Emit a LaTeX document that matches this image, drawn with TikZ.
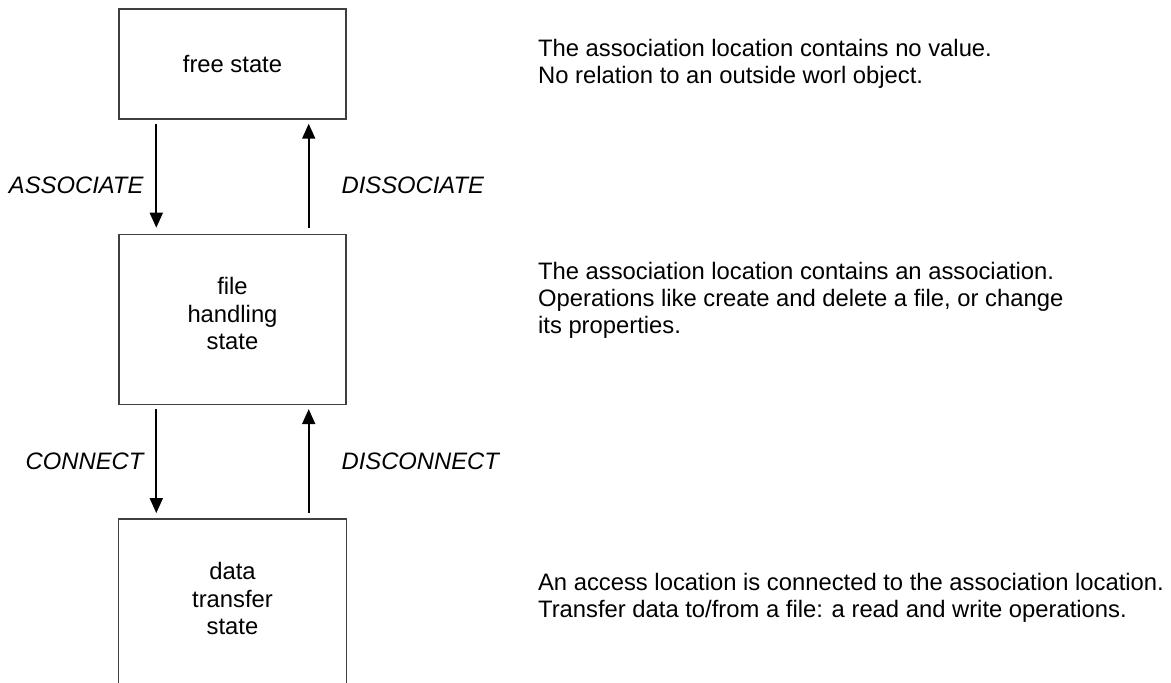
\documentclass[tikz,border=0pt]{standalone}
\usepackage{fontspec}
\setmainfont{Liberation Sans}
\usetikzlibrary{positioning,arrows.meta}

\begin{document}
\begin{tikzpicture}[x=0.5pt,y=-0.5pt]
\tikzstyle{st}=[draw=black!75, line width=0.7pt, minimum width=113.5pt, align=center, inner sep=0pt, font=\fontsize{11.9pt}{13.75pt}\selectfont]
\tikzstyle{arr}=[-{Triangle[length=7.5pt,width=6.5pt]}, line width=0.9pt]
\tikzstyle{lbl}=[inner sep=0pt, font=\fontsize{11.9pt}{13.75pt}\selectfont\itshape]
\tikzstyle{desc}=[align=left, inner sep=0pt, font=\fontsize{11.9pt}{13.5pt}\selectfont]

\clip (0,0) rectangle (1171,682);

\node[st, minimum height=55pt] (free) at (232.5,64) {free state};
\node[st, minimum height=85pt, text depth=6pt, below=57pt of free] (file) {file\\handling\\state};
\node[st, draw=none, minimum height=85pt, text depth=6pt, below=57pt of file] (data) {data\\transfer\\state};
% bottom of the last box is cut off
\draw[black!75, line width=0.7pt] ([yshift=-5pt]data.south west) -- (data.north west) -- (data.north east) -- ([yshift=-5pt]data.south east);

\draw[arr] ([xshift=19pt,yshift=-2pt]free.south west) -- node[lbl, pos=0.59, left=6pt]{ASSOCIATE} ([xshift=19pt,yshift=3pt]file.north west);
\draw[arr] ([xshift=-19pt,yshift=3pt]file.north east) -- node[lbl, pos=0.41, right=16pt]{DISSOCIATE} ([xshift=-19pt,yshift=-2pt]free.south east);
\draw[arr] ([xshift=19pt,yshift=-2pt]file.south west) -- node[lbl, left=6pt]{CONNECT} ([xshift=19pt,yshift=3pt]data.north west);
\draw[arr] ([xshift=-19pt,yshift=3pt]data.north east) -- node[lbl, right=16pt]{DISCONNECT} ([xshift=-19pt,yshift=-2pt]file.south east);

\node[desc, right=95.5pt of free] (freetxt) {The association location contains no value.\\No relation to an outside worl object.};
\node[desc, right=95.5pt of file, yshift=9.5pt] (filetxt) {The association location contains an association.\\Operations like create and delete a file, or change\\its properties.};
\node[desc, right=95.5pt of data, yshift=3.5pt] (datatxt) {An access location is connected to the association location.\\Transfer data to/from a file: a read and write operations.};
\end{tikzpicture}
\end{document}
